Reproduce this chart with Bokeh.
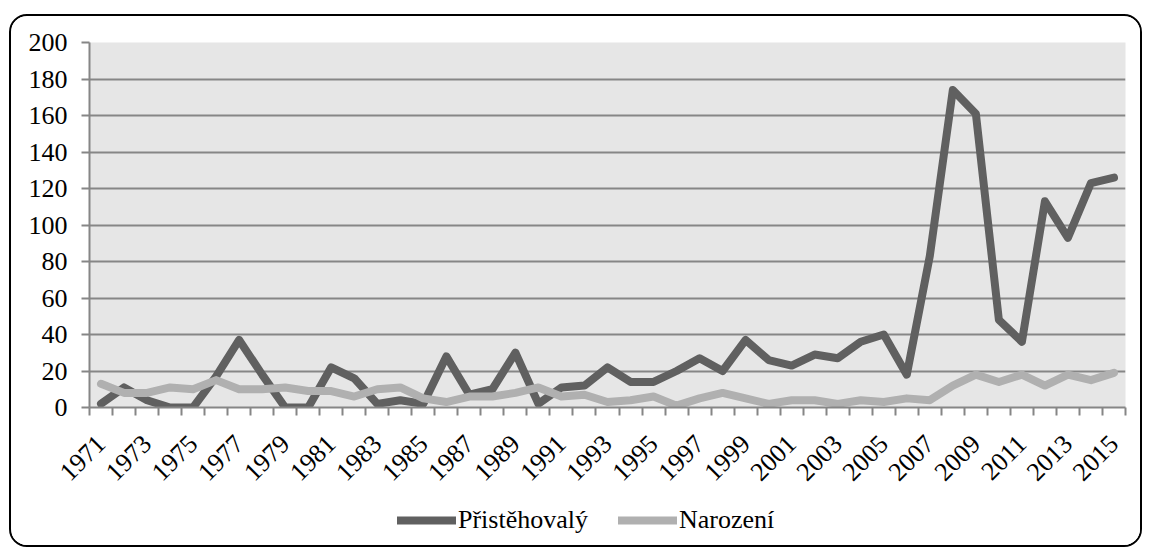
import math
from bokeh.plotting import figure
from bokeh.layouts import column
from bokeh.models import Range1d, FixedTicker, Legend, LegendItem
from bokeh.embed import file_html
from bokeh.resources import INLINE

years = list(range(1971, 2016))
pristehovaly = [2, 11, 4, 0, 0, 17, 37, 18, 0, 0,
                22, 16, 2, 4, 2, 28, 7, 10, 30, 2,
                11, 12, 22, 14, 14, 20, 27, 20, 37, 26,
                23, 29, 27, 36, 40, 18, 83, 174, 161, 48,
                36, 113, 93, 123, 126]
narozeni = [13, 8, 8, 11, 10, 15, 10, 10, 11, 9,
            9, 6, 10, 11, 5, 3, 6, 6, 8, 11,
            6, 7, 3, 4, 6, 1, 5, 8, 5, 2,
            4, 4, 2, 4, 3, 5, 4, 12, 18, 14,
            18, 12, 18, 15, 19]
y_ticks = list(range(0, 201, 20))
series_names = ["Přistěhovalý", "Narození"]
colors = ["#606060", "#b0b0b0"]

FONT = "Liberation Serif"

p = figure(width=1129, height=479, output_backend="svg", toolbar_location=None,
           x_range=Range1d(years[0] - 0.5, years[-1] + 0.5), y_range=Range1d(0, 200),
           min_border_left=78, min_border_right=15, min_border_top=26, min_border_bottom=88)
p.background_fill_color = "#e6e6e6"
p.border_fill_color = "white"
p.outline_line_color = None

p.xgrid.visible = False
p.ygrid.ticker = FixedTicker(ticks=y_ticks)
p.ygrid.grid_line_color = "#868686"
p.ygrid.grid_line_width = 2

p.yaxis.ticker = FixedTicker(ticks=y_ticks)
p.yaxis.axis_line_color = "#868686"
p.yaxis.axis_line_width = 2
p.yaxis.major_tick_line_color = "#868686"
p.yaxis.major_tick_line_width = 2
p.yaxis.major_tick_out = 8
p.yaxis.major_tick_in = 0
p.yaxis.minor_tick_line_color = None
p.yaxis.major_label_text_font = FONT
p.yaxis.major_label_text_font_size = "26px"
p.yaxis.major_label_text_color = "black"
p.yaxis.major_label_standoff = 14

odd_years = years[::2]
bounds = [y - 0.5 for y in years] + [years[-1] + 0.5]
p.xaxis.ticker = FixedTicker(ticks=odd_years, minor_ticks=bounds)
p.xaxis.axis_line_color = "#868686"
p.xaxis.axis_line_width = 2
p.xaxis.major_tick_line_color = None
p.xaxis.minor_tick_line_color = "#868686"
p.xaxis.minor_tick_line_width = 2
p.xaxis.minor_tick_out = 8
p.xaxis.minor_tick_in = 0
p.xaxis.major_label_text_font = FONT
p.xaxis.major_label_text_font_size = "26px"
p.xaxis.major_label_text_color = "black"
p.xaxis.major_label_orientation = math.pi / 4
p.xaxis.major_label_standoff = 24
p.xaxis.major_label_overrides = {y: str(y) for y in odd_years}

p.line(years, pristehovaly, line_color=colors[0], line_width=8, line_cap="round", line_join="round")
p.line(years, narozeni, line_color=colors[1], line_width=8, line_cap="round", line_join="round")

# legend strip
lg = figure(width=1129, height=50, output_backend="svg", toolbar_location=None,
            x_axis_type=None, y_axis_type=None,
            x_range=Range1d(0, 1), y_range=Range1d(0, 1),
            min_border_left=0, min_border_right=0, min_border_top=0, min_border_bottom=0)
lg.grid.visible = False
lg.outline_line_color = None
lg.background_fill_color = "white"
lg.border_fill_color = "white"
d1 = lg.line([-2, -1], [-2, -2], line_color=colors[0], line_width=8, line_cap="round")
d2 = lg.line([-2, -1], [-2, -2], line_color=colors[1], line_width=8, line_cap="round")
legend = Legend(items=[LegendItem(label=series_names[0], renderers=[d1]),
                       LegendItem(label=series_names[1], renderers=[d2])],
                orientation="horizontal", location=(308, 10),
                label_text_font=FONT, label_text_font_size="26px", label_text_color="black",
                glyph_width=59, glyph_height=30, label_standoff=2, spacing=30, label_height=30,
                border_line_color=None, background_fill_alpha=0, padding=0, margin=0)
lg.add_layout(legend, "center")

layout = column(p, lg, spacing=0)
layout.styles = {"border": "2px solid black", "border-radius": "18px",
                 "margin-left": "9px", "margin-top": "14px", "overflow": "hidden"}

open("out.html", "w").write(file_html(layout, INLINE))
